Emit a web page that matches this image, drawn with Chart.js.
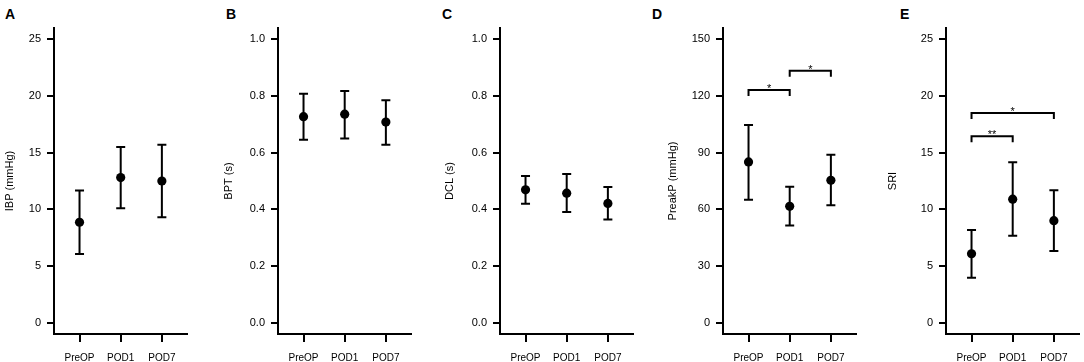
<!DOCTYPE html>
<html>
<head>
<meta charset="utf-8">
<script src="https://cdn.jsdelivr.net/npm/chart.js@4.4.0/dist/chart.umd.min.js"></script>
<style>
    body { margin: 0; background: #fff; width: 1084px; height: 362px; overflow: hidden; position: relative; }
    .panel { position: absolute; top: 0; }
    .letter { position: absolute; top: 7px; font: bold 14px "Liberation Sans", Arial, sans-serif; line-height: 14px; color: #000; }
</style>
</head>
<body>
<div class="letter" style="left:5px">A</div>
<div class="letter" style="left:226px">B</div>
<div class="letter" style="left:442px">C</div>
<div class="letter" style="left:652px">D</div>
<div class="letter" style="left:900px">E</div>

<div class="panel" style="left:-6px"><canvas id="IbpChart" width="198" height="362"></canvas></div>
<div class="panel" style="left:218px"><canvas id="BptChart" width="198" height="362"></canvas></div>
<div class="panel" style="left:440px"><canvas id="DclChart" width="198" height="362"></canvas></div>
<div class="panel" style="left:663px"><canvas id="PreakPChart" width="198" height="362"></canvas></div>
<div class="panel" style="left:886px"><canvas id="SriChart" width="198" height="362"></canvas></div>

<script>
const timepoints = ['PreOP', 'POD1', 'POD7'];

const ibp_mean = [8.86, 12.8, 12.5];
const ibp_low = [6.05, 10.1, 9.3];
const ibp_high = [11.67, 15.5, 15.7];

const bpt_mean = [0.727, 0.736, 0.708];
const bpt_low = [0.646, 0.650, 0.628];
const bpt_high = [0.808, 0.818, 0.785];

const dcl_mean = [0.469, 0.457, 0.421];
const dcl_low = [0.420, 0.391, 0.364];
const dcl_high = [0.518, 0.525, 0.479];

const preakp_mean = [85.1, 61.6, 75.4];
const preakp_low = [65.1, 51.4, 62.1];
const preakp_high = [104.7, 72.0, 88.9];

const sri_mean = [6.08, 10.9, 9.0];
const sri_low = [3.97, 7.66, 6.33];
const sri_high = [8.18, 14.16, 11.69];

const ticks_25 = [0, 5, 10, 15, 20, 25];
const ticks_1 = [0, 0.2, 0.4, 0.6, 0.8, 1.0];
const ticks_150 = [0, 30, 60, 90, 120, 150];

// significance brackets: from / to timepoint index, height in axis units
const preakp_sig = [
    {from: 0, to: 1, y: 123.2, label: '*'},
    {from: 1, to: 2, y: 133.4, label: '*'}
];
const sri_sig = [
    {from: 0, to: 2, y: 18.5, label: '*'},
    {from: 0, to: 1, y: 16.45, label: '**'}
];

Chart.defaults.font.family = '"Liberation Sans", Arial, sans-serif';
Chart.defaults.color = '#000';

const errorBars = {
    id: 'errorBars',
    beforeDatasetsDraw(chart) {
        const ctx = chart.ctx;
        const xs = chart.scales.x;
        const ys = chart.scales.y;
        const ds = chart.data.datasets[0];
        ctx.save();
        ctx.strokeStyle = '#000';
        ctx.lineWidth = 2;
        ds.errLow.forEach((lo, i) => {
            const px = xs.getPixelForValue(i + 1);
            const top = ys.getPixelForValue(ds.errHigh[i]);
            const bot = ys.getPixelForValue(lo);
            ctx.beginPath();
            ctx.moveTo(px, top); ctx.lineTo(px, bot);
            ctx.moveTo(px - 4.5, top); ctx.lineTo(px + 4.5, top);
            ctx.moveTo(px - 4.5, bot); ctx.lineTo(px + 4.5, bot);
            ctx.stroke();
        });
        ctx.font = '11px "Liberation Sans", Arial, sans-serif';
        ctx.fillStyle = '#000';
        ctx.textAlign = 'center';
        ctx.textBaseline = 'alphabetic';
        (ds.sig || []).forEach(s => {
            const x1 = xs.getPixelForValue(s.from + 1);
            const x2 = xs.getPixelForValue(s.to + 1);
            const py = ys.getPixelForValue(s.y);
            ctx.beginPath();
            ctx.moveTo(x1, py + 6); ctx.lineTo(x1, py);
            ctx.lineTo(x2, py); ctx.lineTo(x2, py + 6);
            ctx.stroke();
            ctx.fillText(s.label, (x1 + x2) / 2, py + 2);
        });
        ctx.restore();
    }
};

function plot_panel(canvas_id, label, mean, low, high, sig, y_min, y_max, y_ticks, decimals, title_pad){
    const ctx = document.getElementById(canvas_id).getContext('2d');
    const points = mean.map((v, i) => ({x: i + 1, y: v}));
    return new Chart(ctx, {
        type: 'scatter',
        data: {
            datasets: [{
                data: points,
                errLow: low,
                errHigh: high,
                sig: sig,
                pointRadius: 4.6,
                pointHoverRadius: 4.6,
                backgroundColor: '#000',
                borderWidth: 0
            }]
        },
        options: {
            responsive: false,
            animation: false,
            layout: {padding: {top: 28, right: 1, left: 0, bottom: 0}},
            plugins: {legend: {display: false}, tooltip: {enabled: false}},
            scales: {
                x: {
                    type: 'linear',
                    min: 0.38,
                    max: 3.62,
                    afterBuildTicks: s => { s.ticks = timepoints.map((t, i) => ({value: i + 1})); },
                    afterFit: s => { s.height = 28; },
                    grid: {drawOnChartArea: false, tickLength: 8, lineWidth: 2, color: '#000'},
                    border: {display: true, width: 2, color: '#000'},
                    ticks: {
                        autoSkip: false,
                        maxRotation: 0,
                        padding: 10,
                        font: {size: 10},
                        callback: v => timepoints[v - 1]
                    }
                },
                y: {
                    min: y_min,
                    max: y_max,
                    afterBuildTicks: s => { s.ticks = y_ticks.map(v => ({value: v})); },
                    afterFit: s => { s.width = 60; },
                    grid: {drawOnChartArea: false, tickLength: 7, lineWidth: 2, color: '#000'},
                    border: {display: true, width: 2, color: '#000'},
                    ticks: {
                        padding: 6,
                        font: {size: 11},
                        callback: v => v.toFixed(decimals)
                    },
                    title: {
                        display: true,
                        text: label,
                        font: {size: 11},
                        padding: {top: title_pad, bottom: 0}
                    }
                }
            }
        },
        plugins: [errorBars]
    });
}

plot_panel('IbpChart', 'IBP (mmHg)', ibp_mean, ibp_low, ibp_high, [], -1, 26, ticks_25, 0, 9.4);
plot_panel('BptChart', 'BPT (s)', bpt_mean, bpt_low, bpt_high, [], -0.04, 1.04, ticks_1, 1, 3.9);
plot_panel('DclChart', 'DCL (s)', dcl_mean, dcl_low, dcl_high, [], -0.04, 1.04, ticks_1, 1, 3.4);
plot_panel('PreakPChart', 'PreakP (mmHg)', preakp_mean, preakp_low, preakp_high, preakp_sig, -6, 156, ticks_150, 0, 3.4);
plot_panel('SriChart', 'SRI', sri_mean, sri_low, sri_high, sri_sig, -1, 26, ticks_25, 0, 0.4);
</script>
</body>
</html>
